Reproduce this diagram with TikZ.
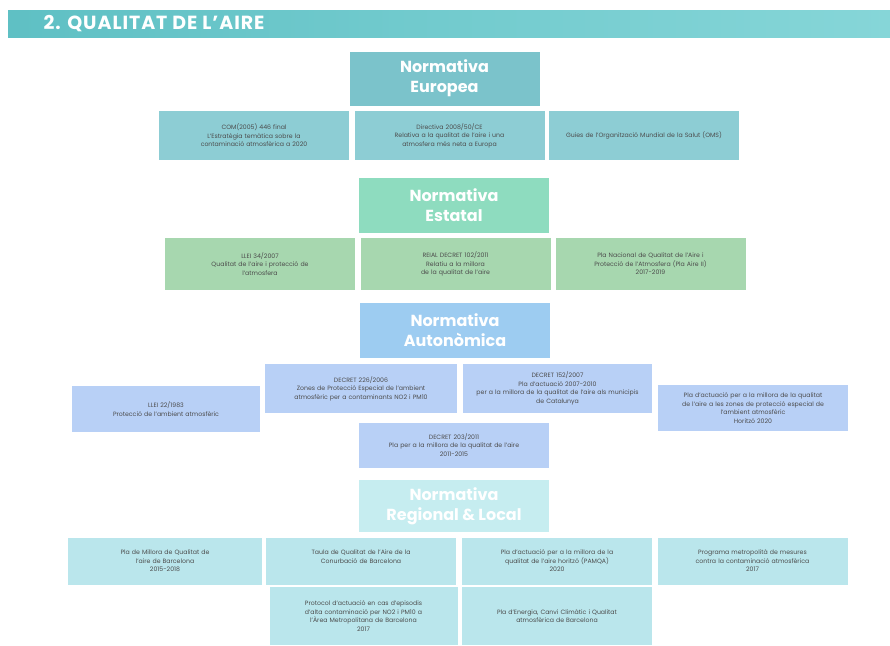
\documentclass[tikz,border=0pt]{standalone}
\usepackage{fontspec}
\setmainfont{Poppins}
\usepackage{tikz}

\definecolor{barL}{HTML}{5FC0C4}
\definecolor{barR}{HTML}{86D6D8}
\definecolor{eurH}{HTML}{7BC3CB}
\definecolor{eurB}{HTML}{8DCDD4}
\definecolor{estH}{HTML}{8EDCBF}
\definecolor{estB}{HTML}{A7D7AF}
\definecolor{autH}{HTML}{9DCCF1}
\definecolor{autB}{HTML}{B8D0F6}
\definecolor{regH}{HTML}{C6EDF0}
\definecolor{regB}{HTML}{BAE6EC}

\begin{document}
\begin{tikzpicture}[x=1pt,y=-1pt,
    head/.style={minimum width=190pt, minimum height=54pt, inner sep=0pt, text=white, align=center, font=\bfseries\fontsize{16}{20}\selectfont},
    item/.style={minimum width=190pt, minimum height=49pt, inner sep=1pt, text width=186pt, align=center, text=black!70, font=\fontsize{6.2}{8.5}\selectfont}]
    \useasboundingbox (0,0) rectangle (890,645);
    \fill[white] (0,0) rectangle (890,645);
    \fill[left color=barL, right color=barR] (8,10) rectangle (890,37);
    \node (title) [anchor=west, text=white, font=\bfseries\fontsize{19}{20}\selectfont\addfontfeatures{LetterSpace=5}] at (40,23.5) {2. QUALITAT DE L'AIRE};

    \node (eur) [head, fill=eurH] at (444.5,78.5) {Normativa\\Europea};
    \node (eur1) [item, fill=eurB] at (254,135.5) {COM(2005) 446 final\\L'Estratègia temàtica sobre la\\contaminació atmosfèrica a 2020};
    \node (eur2) [item, fill=eurB] at (449.5,135.5) {Directiva 2008/50/CE\\Relativa a la qualitat de l'aire i una\\atmosfera més neta a Europa};
    \node (eur3) [item, fill=eurB] at (644,135.5) {Guies de l'Organització Mundial de la Salut (OMS)};

    \node (est) [head, fill=estH, minimum height=55pt] at (454,205.5) {Normativa\\Estatal};
    \node (est1) [item, fill=estB, minimum height=52pt] at (260,264) {LLEI 34/2007\\Qualitat de l'aire i protecció de\\l'atmosfera};
    \node (est2) [item, fill=estB, minimum height=52pt] at (455.5,264) {REIAL DECRET 102/2011\\Relatiu a la millora\\de la qualitat de l'aire};
    \node (est3) [item, fill=estB, minimum height=52pt] at (650.5,264) {Pla Nacional de Qualitat de l'Aire i\\Protecció de l'Atmosfera (Pla Aire II)\\2017-2019};

    \node (aut) [head, fill=autH, minimum height=55pt] at (455,330.5) {Normativa\\Autonòmica};
    \node (aut0) [item, fill=autB, minimum width=188pt, minimum height=46pt] at (166,409) {LLEI 22/1983\\Protecció de l'ambient atmosfèric};
    \node (aut1) [item, fill=autB, minimum width=192pt] at (361,388.5) {DECRET 226/2006\\Zones de Protecció Especial de l'ambient\\atmosfèric per a contaminants NO2 i PM10};
    \node (aut2) [item, fill=autB, minimum width=189pt] at (557.5,388.5) {DECRET 152/2007\\Pla d'actuació 2007-2010\\per a la millora de la qualitat de l'aire als municipis\\de Catalunya};
    \node (aut3) [item, fill=autB, minimum height=46pt] at (753,408) {Pla d'actuació per a la millora de la qualitat\\de l'aire a les zones de protecció especial de\\l'ambient atmosfèric\\Horitzó 2020};
    \node (aut4) [item, fill=autB, minimum height=45pt] at (454,445) {DECRET 203/2011\\Pla per a la millora de la qualitat de l'aire\\2011-2015};

    \node (reg) [head, fill=regH, minimum height=52pt] at (454,506) {Normativa\\Regional \& Local};
    \node (reg1) [item, fill=regB, minimum width=194pt, minimum height=47pt] at (165,561) {Pla de Millora de Qualitat de\\l'aire de Barcelona\\2015-2018};
    \node (reg2) [item, fill=regB, minimum height=47pt] at (361,561) {Taula de Qualitat de l'Aire de la\\Conurbació de Barcelona\\ \mbox{}};
    \node (reg3) [item, fill=regB, minimum height=47pt] at (557,561) {Pla d'actuació per a la millora de la\\qualitat de l'aire horitzó (PAMQA)\\2020};
    \node (reg4) [item, fill=regB, minimum height=47pt] at (752.5,561) {Programa metropolità de mesures\\contra la contaminació atmosfèrica\\2017};
    \node (reg5) [item, fill=regB, minimum width=182pt, minimum height=58pt] at (363.5,616) {Protocol d'actuació en cas d'episodis\\d'alta contaminació per NO2 i PM10 a\\l'Àrea Metropolitana de Barcelona\\2017};
    \node (reg6) [item, fill=regB, minimum height=58pt] at (557,616) {Pla d'Energia, Canvi Climàtic i Qualitat\\atmosfèrica de Barcelona};
\end{tikzpicture}
\end{document}
